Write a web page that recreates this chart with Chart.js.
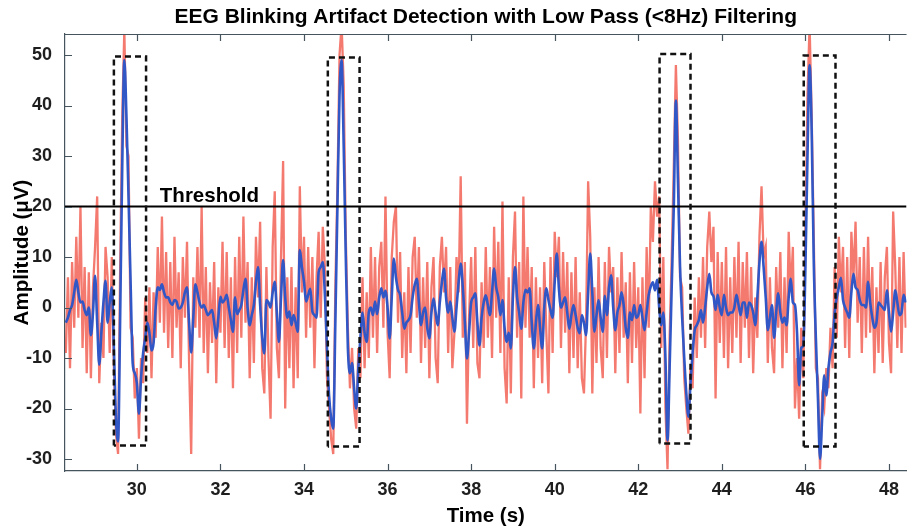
<!DOCTYPE html>
<html>
<head>
<meta charset="utf-8">
<title>EEG Blinking Artifact Detection</title>
<script src="https://cdn.jsdelivr.net/npm/chart.js@4.4.1/dist/chart.umd.min.js"></script>
<style>
  body { margin: 0; background: #fff; }
  #wrap { width: 907px; height: 529px; position: relative; }
</style>
</head>
<body>
<div id="wrap"><canvas id="eegChart"></canvas></div>
<script>
/* sampling of the traces (seconds) */
var startTime = 28.3;
var sampleStep = 0.05;

/* raw EEG (uV) */
var rawEEG = [
  -9, 6, -12, 9, -4, 14, -2, 20, -8, 8,
  -13, 7, -14, 4, 12, 22, -15, -3, -10, 12,
  6, -9, 10, -12, -25, -29, 8, 38, 55, 32,
  30, -4, -6, -18, -12, -26, -10, -15, 2, -9,
  4, -14, 3, -6, 12, -3, 18, -5, 11, -8,
  9, -10, 14, -4, 7, -12, 10, -2, 13, -11,
  -29, 6, -4, 12, -6, 20, -9, 8, -13, 5,
  -7, 9, -15, 4, -5, 13, -8, 11, -10, 6,
  -16, 10, -9, 14, -6, 18, -3, 9, -14, 6,
  -11, 14, 2, 17, -12, -17, 8, -10, -22, 12,
  23, -8, -14, 10, 29, -20, 6, -12, 8, -16,
  4, -14, 24, 3, 14, -6, 12, -4, 10, -12,
  6, 15, -2, 16, 8, -14, -20, -26, -29, 4,
  24, 50, 56, 44, 14, -4, -16, -8, -20, -24,
  -8, -14, 6, -12, 3, -10, 12, -6, 10, -9,
  8, 13, -4, 22, -5, -14, 10, 17, 20, -3,
  11, -10, 3, -13, 8, -9, 10, 14, -2, 12,
  -11, 6, -8, 9, -14, 4, 10, -10, -15, 8,
  14, 3, 12, -9, 8, -12, -5, 10, 3, 26,
  -6, 9, -23, -2, 10, -8, 12, -11, -14, 5,
  -8, 12, -6, 8, -10, 16, -2, 13, -9, 21,
  -12, -19, 6, -17, 10, 19, -6, 9, -18, 22,
  -4, 12, -6, 8, -16, 6, -10, 4, -15, 9,
  -5, -17, 10, -9, 15, 6, 14, -8, 11, -5,
  9, -13, 7, -10, 10, -12, 3, -14, -17, -3,
  25, 14, -17, 4, -11, 10, -8, -14, 9, -10,
  12, 3, 8, -13, 6, -9, 11, -6, 5, -15,
  7, -11, 9, -8, 4, -21, 6, -14, 12, -4,
  20, 13, 25, 18, 22, -8, 10, -20, -32, -6,
  10, 28, 48, 33, 6, 4, -14, -20, -25, -12,
  -16, 2, -10, 6, -6, 10, -8, 12, 19, 9,
  16, -18, 11, -7, 9, -10, 12, -12, 6, -9,
  10, -6, 13, -11, 9, -4, 11, -10, 8, -13,
  2, -6, 14, 24, 10, 12, -11, 6, -8, -13,
  8, -4, 11, -12, 6, -9, 15, 3, 12, -20,
  -10, -22, -4, -14, 16, 42, 56, 38, 14, -12,
  -14, -32, -18, -20, -12, -16, -4, -12, 8, -6,
  14, 3, 12, -8, 10, -10, 15, 6, 17, -3,
  10, -9, 12, -6, 14, -5, 8, -13, 4, -9,
  9, -11, 6, 12, -7, -13, 19, 8, -8, 10,
  -9, 11, -4
];

/* low pass (<8Hz) filtered EEG (uV) */
var filteredEEG = [
  -3, -2, -0.5, 0.5, 3, 5.5, 3, 1, 1.2, -0.5,
  -1.5, 0, -5.5, -1, 6.3, -3, -11.3, -5, 1, 5.3,
  -3, 1, 4, -8, -22, -26.5, -2, 28, 49, 38,
  22, 5, -11, -13, -15, -21, -14, -9, -6, -3,
  -5, -8.5, -7, 0, 4, 3.5, 4.6, 3, 2, 2,
  1, 0.5, 1.5, 1.2, -0.2, 0, 1, 3, 4, -3,
  -8.9, -2, 4.6, 3, 1, 0, 0.5, -0.5, -1.5, -1,
  -0.5, -3, -6.1, -2, 2.1, 1, 1.5, 2.5, 0, -2.5,
  -4.8, 2, -1.3, -0.5, 0.5, 3.5, 5.7, 0, -3.5, -1.5,
  0.5, 5, 8, 0.5, -6, -9.1, 1.5, 1, 0, 3,
  5.1, -1, -6.8, 2, 9.4, 2, -2, -0.8, -3.5, -1.5,
  -3, -4.8, 11.4, 8, 5.1, 1.2, 2.5, 3.7, -0.8, -1.5,
  -2, 7, 8, 9, 2.5, -8, -17.4, -22, -24, -3,
  20, 42, 49, 32, 10, -8, -13, -11, -16, -20,
  -12, -6, -1, -5, -6.8, -1, 0, -1.5, 1.2, -1.3,
  2, 3.8, 2, 3.3, 0, -6.1, 2, 9.7, 6, 3.5,
  2.5, -1, -4.2, -3, -2.5, -1.5, 2, 4.5, 5.7, 1,
  -3.5, -1, 0, -4, -6.1, -1, 1.8, -1, -3.5, 1,
  5, 7.7, 2, -1, 1.2, -2, -4.8, 0, 5, 8.7,
  4, -3, -10.1, -5, 1, 2, 2.8, -3, -7.5, -2,
  1, 2.4, 0.5, -1.5, 3, 7.7, 4, 2, -1.5, 1.5,
  -4, -6.8, -5, -8.1, 2, 8, 2, -1, -4.2, 1,
  3.5, 3, 3.8, -3, -8.1, -3, 0.5, -4, -8.1, 0,
  3.8, 1.5, -0.5, -2, 5, 10.7, 3.8, 0, 1, 2,
  -1, -4.2, -1.5, 0.5, -1.5, -4, -5.1, -1.5, -3, -5.5,
  3, 10.7, 3, -4.8, -1.5, 1.5, -2, -4.8, 2.3, -1.5,
  4, 6.4, 0, -4.5, -1, 0.5, 3, 0.5, -4, -6,
  -1, -2.5, 0.5, -2, -1.5, 0.5, -2, -4.5, -1, 2.5,
  4.2, 5, 3.4, 5.5, 0, -3.5, -1, -10, -26.3, -12,
  4, 20, 41, 25, 8, -2, -10, -17, -21.6, -15,
  -9, -4.5, -3.5, -2.5, -0.5, -3, 0, 4, 6.7, 3,
  2.2, -0.5, 2.5, 0, -1.5, 2.5, 0, -1.5, -1, -1,
  0, 2.5, 0.5, -1.5, 1, 1, -2, 1, 0.5, -1,
  -3.5, 2, 9, 13, 8, 2, -4.5, -2, 0.5, -6,
  -1, 2.8, -1, -3, -2, -3.5, 2, 5.7, 1, 0.5,
  -5, -15.4, -8, -7.5, 8, 30, 48, 35, 9, -6,
  -18, -30, -22, -13.4, -17.4, -12, -8.9, -7, -1, 2,
  4, 5.9, 1.5, 0, -1, -2, 3, 6.7, 4, 3.5,
  1.5, 0.5, 0.5, 0, 5.1, 1, -2, -4, -3, 1,
  0.5, 0, -0.5, 3.4, -1, -4.8, -1, 3.4, 1, -1.5,
  -1, 2.5, 1
];

/* detected blink windows */
var blinkStart = [29.45, 34.57, 42.51, 45.96];
var blinkEnd = [30.22, 35.33, 43.25, 46.72];
var blinkTop = [49.7, 49.5, 50.2, 49.9];
var blinkBottom = [-27.3, -27.5, -26.9, -27.5];

var thresholdValue = 20;
var thresholdLabel = "Threshold";
var thresholdLabelAt = 30.55;

var xRange = [28.28, 48.42];
var yRange = [-32.37, 54.16];
var xTicks = [30, 32, 34, 36, 38, 40, 42, 44, 46, 48];
var yTicks = [-30, -20, -10, 0, 10, 20, 30, 40, 50];

var axisColor = "#46545e";
var textColor = "#1e1e1e";

function toPoints(values) {
  return values.map(function (v, i) {
    return { x: startTime + i * sampleStep, y: v };
  });
}

var datasets = [];

/* dashed boxes round each blink */
for (let b = 0; b < blinkStart.length; b++) {
  datasets.push({
    label: "blink " + (b + 1),
    data: [
      { x: blinkStart[b], y: blinkBottom[b] },
      { x: blinkStart[b], y: blinkTop[b] },
      { x: blinkEnd[b], y: blinkTop[b] },
      { x: blinkEnd[b], y: blinkBottom[b] },
      { x: blinkStart[b], y: blinkBottom[b] }
    ],
    borderColor: "#111",
    borderWidth: 2.5,
    borderDash: [6, 4],
    pointRadius: 0,
    tension: 0,
    order: 0
  });
}

datasets.push({
  label: "Threshold",
  data: [{ x: xRange[0], y: thresholdValue }, { x: xRange[1], y: thresholdValue }],
  borderColor: "#000",
  borderWidth: 2,
  pointRadius: 0,
  order: 1
});

datasets.push({
  label: "Filtered",
  data: toPoints(filteredEEG),
  borderColor: "#3157c6",
  borderWidth: 2.6,
  pointRadius: 0,
  cubicInterpolationMode: "monotone",
  order: 2
});

datasets.push({
  label: "Raw",
  data: toPoints(rawEEG),
  borderColor: "rgba(238, 38, 22, 0.62)",
  borderWidth: 2.3,
  pointRadius: 0,
  tension: 0,
  order: 3
});

/* MATLAB style: ticks pointing inwards, box top line, threshold text */
var matlabAxes = {
  id: "matlabAxes",
  afterDraw: function (chart) {
    var ctx = chart.ctx;
    var area = chart.chartArea;
    var xs = chart.scales.x;
    var ys = chart.scales.y;
    ctx.save();
    ctx.strokeStyle = axisColor;
    ctx.lineWidth = 1.2;
    ctx.beginPath();
    ctx.moveTo(area.left, area.top + 0.5);
    ctx.lineTo(area.right, area.top + 0.5);
    xTicks.forEach(function (v) {
      var px = Math.round(xs.getPixelForValue(v)) + 0.5;
      ctx.moveTo(px, area.bottom);
      ctx.lineTo(px, area.bottom - 7);
      ctx.moveTo(px, area.top);
      ctx.lineTo(px, area.top + 7);
    });
    yTicks.forEach(function (v) {
      var py = Math.round(ys.getPixelForValue(v)) + 0.5;
      ctx.moveTo(area.left, py);
      ctx.lineTo(area.left + 7, py);
    });
    ctx.stroke();

    ctx.fillStyle = "#000";
    ctx.font = "bold 20.5px 'Liberation Sans', Arial, sans-serif";
    ctx.textAlign = "left";
    ctx.textBaseline = "alphabetic";
    ctx.fillText(thresholdLabel, xs.getPixelForValue(thresholdLabelAt), ys.getPixelForValue(thresholdValue) - 5);
    ctx.restore();
  }
};

var tickFont = { family: "'Liberation Sans', Arial, sans-serif", size: 18, weight: "bold" };
var titleFont = { family: "'Liberation Sans', Arial, sans-serif", size: 21, weight: "bold", lineHeight: 1.2 };
var axisTitleFont = { family: "'Liberation Sans', Arial, sans-serif", size: 20.5, weight: "bold", lineHeight: 1.2 };

var ctx0 = document.getElementById("eegChart");
var myChart = new Chart(ctx0, {
  type: "line",
  data: { datasets: datasets },
  plugins: [matlabAxes],
  options: {
    responsive: true,
    maintainAspectRatio: false,
    animation: false,
    layout: { padding: 0 },
    plugins: {
      legend: { display: false },
      tooltip: { enabled: false },
      title: {
        display: true,
        fullSize: false,
        text: "EEG Blinking Artifact Detection with Low Pass (<8Hz) Filtering",
        color: "#000",
        font: titleFont,
        padding: { top: 5, bottom: 3.8 }
      }
    },
    scales: {
      x: {
        type: "linear",
        min: xRange[0],
        max: xRange[1],
        afterBuildTicks: function (scale) {
          scale.ticks = xTicks.map(function (v) { return { value: v }; });
        },
        afterFit: function (scale) { scale.height = 58; },
        grid: { display: false, drawTicks: false },
        border: { display: true, color: axisColor, width: 1.2 },
        ticks: { color: textColor, font: tickFont, padding: 8, maxRotation: 0 },
        title: {
          display: true,
          text: "Time (s)",
          color: "#000",
          font: axisTitleFont,
          padding: { top: 0, bottom: 0.7 }
        }
      },
      y: {
        type: "linear",
        min: yRange[0],
        max: yRange[1],
        afterBuildTicks: function (scale) {
          scale.ticks = yTicks.map(function (v) { return { value: v }; });
        },
        afterFit: function (scale) { scale.width = 65; },
        grid: { display: false, drawTicks: false },
        border: { display: true, color: axisColor, width: 1.2 },
        ticks: { color: textColor, font: tickFont, padding: 13 },
        title: {
          display: true,
          text: "Amplitude (μV)",
          color: "#000",
          font: axisTitleFont,
          padding: { top: 9.7, bottom: 0 }
        }
      }
    }
  }
});
</script>
</body>
</html>
